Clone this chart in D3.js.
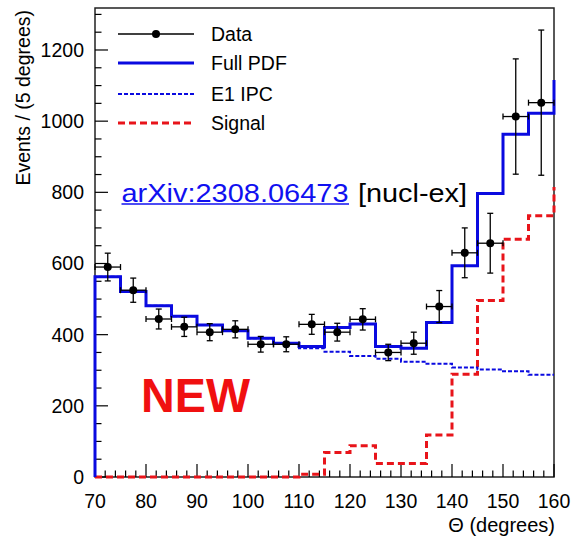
<!DOCTYPE html>
<html>
<head>
<meta charset="utf-8">
<script src="https://cdn.jsdelivr.net/npm/d3@7"></script>
<style>
  body { margin: 0; background: #fff; }
  svg { display: block; font-family: "Liberation Sans", Arial, sans-serif; }
</style>
</head>
<body>
<svg width="572" height="539"></svg>
<script>
// bin centres (5 degree bins from 70 to 160)
const binCenters = [72.5, 77.5, 82.5, 87.5, 92.5, 97.5, 102.5, 107.5, 112.5,
    117.5, 122.5, 127.5, 132.5, 137.5, 142.5, 147.5, 152.5, 157.5];
const dataValues = [590, 525, 444, 422, 407, 415, 373, 373, 429,
    407, 443, 350, 376, 479, 630, 657, 1013, 1052];
const dataErrors = [39, 34, 28, 27, 24, 24, 22, 21, 28,
    25, 30, 23, 31, 45, 70, 84, 162, 204];
const fullPdf = [563, 521, 481, 452, 427, 411, 390, 376, 367,
    420, 430, 367, 362, 434, 594, 797, 963, 1022];
const e1Ipc = [563, 521, 481, 452, 427, 411, 390, 376, 362,
    352, 340, 332, 324, 318, 308, 302, 297, 287];
const signal = [0, 0, 0, 0, 0, 0, 0, 0, 8,
    69, 88, 38, 38, 118, 289, 496, 668, 734];
// curve end values at the plot edges (70 and 160)
const fullEdges = [0, 1116];
const e1Edges = [0, 287];
const signalEdges = [0, 815];

const xTicks = [70, 80, 90, 100, 110, 120, 130, 140, 150, 160];
const yTicks = [0, 200, 400, 600, 800, 1000, 1200];

const legendItems = ["Data", "Full PDF", "E1 IPC", "Signal"];

const svg = d3.select("svg");
const padL = 95, padR = 554, padT = 8, padB = 477;
const binW = 5;

const x = d3.scaleLinear().domain([70, 160]).range([padL, padR]);
const y = d3.scaleLinear().domain([0, 1318]).range([padB, padT]);

const blue = "#0a0ae0", red = "#e8141a";

// stepped histogram path with edge values
function stepPoints(vals, edges) {
    const pts = [[70, edges[0]]];
    vals.forEach((v, i) => {
        pts.push([binCenters[i] - binW / 2, v]);
        pts.push([binCenters[i] + binW / 2, v]);
    });
    pts.push([160, edges[1]]);
    return pts;
}

const line = d3.line()
    .x(d => x(d[0]))
    .y(d => y(d[1]));

// frame
svg.append("rect")
    .attr("x", padL).attr("y", padT)
    .attr("width", padR - padL).attr("height", padB - padT)
    .attr("fill", "none").attr("stroke", "#222").attr("stroke-width", 1.5);

// minor + major ticks (pointing inward)
const g = svg.append("g");
const xMinor = d3.range(70, 160.01, 2);
g.selectAll("line.xminor").data(xMinor).enter().append("line")
    .attr("x1", d => x(d)).attr("x2", d => x(d))
    .attr("y1", padB).attr("y2", d => padB - (d % 10 === 0 ? 13 : 6.5))
    .attr("stroke", "#000").attr("stroke-width", 1.2);
const yMinor = d3.range(0, 1318, 50);
g.selectAll("line.yminor").data(yMinor).enter().append("line")
    .attr("y1", d => y(d)).attr("y2", d => y(d))
    .attr("x1", padL).attr("x2", d => padL + (d % 200 === 0 ? 13 : 6.5))
    .attr("stroke", "#000").attr("stroke-width", 1.2);

// tick labels
svg.append("g").selectAll("text").data(xTicks).enter().append("text")
    .attr("x", d => x(d)).attr("y", 508)
    .attr("text-anchor", "middle")
    .attr("font-size", 19.5)
    .text(d => d);
svg.append("g").selectAll("text").data(yTicks).enter().append("text")
    .attr("x", 84).attr("y", d => y(d) + 7)
    .attr("text-anchor", "end")
    .attr("font-size", 19.5)
    .text(d => d);

// axis titles
svg.append("text")
    .attr("transform", "translate(30,10) rotate(-90)")
    .attr("text-anchor", "end")
    .attr("font-size", 19.5)
    .text("Events / (5 degrees)");
svg.append("text")
    .attr("x", 555).attr("y", 532)
    .attr("text-anchor", "end")
    .attr("font-size", 20)
    .text("\u0398 (degrees)");

// curves
svg.append("path").attr("d", line(stepPoints(signal, signalEdges)))
    .attr("fill", "none").attr("stroke", red).attr("stroke-width", 3)
    .attr("stroke-dasharray", "7,4");
svg.append("path").attr("d", line(stepPoints(e1Ipc, e1Edges)))
    .attr("fill", "none").attr("stroke", blue).attr("stroke-width", 2)
    .attr("stroke-dasharray", "4,2");
svg.append("path").attr("d", line(stepPoints(fullPdf, fullEdges)))
    .attr("fill", "none").attr("stroke", blue).attr("stroke-width", 3);

// data points with error bars
const pts = svg.append("g").selectAll("g").data(binCenters).enter().append("g");
pts.append("line")
    .attr("x1", d => x(d - binW / 2)).attr("x2", d => x(d + binW / 2))
    .attr("y1", (d, i) => y(dataValues[i])).attr("y2", (d, i) => y(dataValues[i]))
    .attr("stroke", "#000").attr("stroke-width", 1.3);
pts.append("line")
    .attr("x1", d => x(d)).attr("x2", d => x(d))
    .attr("y1", (d, i) => y(dataValues[i] - dataErrors[i]))
    .attr("y2", (d, i) => y(dataValues[i] + dataErrors[i]))
    .attr("stroke", "#000").attr("stroke-width", 1.3);
// caps
[-1, 1].forEach(s => {
    pts.append("line")
        .attr("x1", d => x(d + s * binW / 2)).attr("x2", d => x(d + s * binW / 2))
        .attr("y1", (d, i) => y(dataValues[i]) - 3).attr("y2", (d, i) => y(dataValues[i]) + 3)
        .attr("stroke", "#000").attr("stroke-width", 1.3);
    pts.append("line")
        .attr("x1", d => x(d) - 3).attr("x2", d => x(d) + 3)
        .attr("y1", (d, i) => y(dataValues[i] + s * dataErrors[i]))
        .attr("y2", (d, i) => y(dataValues[i] + s * dataErrors[i]))
        .attr("stroke", "#000").attr("stroke-width", 1.3);
});
pts.append("circle")
    .attr("cx", d => x(d)).attr("cy", (d, i) => y(dataValues[i]))
    .attr("r", 4).attr("fill", "#000");

// legend
const legY = [34, 63, 94, 123];
const leg = svg.append("g");
leg.append("line").attr("x1", 118).attr("x2", 194).attr("y1", legY[0]).attr("y2", legY[0])
    .attr("stroke", "#000").attr("stroke-width", 1.3);
leg.append("circle").attr("cx", 156).attr("cy", legY[0]).attr("r", 4).attr("fill", "#000");
leg.append("line").attr("x1", 118).attr("x2", 194).attr("y1", legY[1]).attr("y2", legY[1])
    .attr("stroke", blue).attr("stroke-width", 3);
leg.append("line").attr("x1", 118).attr("x2", 194).attr("y1", legY[2]).attr("y2", legY[2])
    .attr("stroke", blue).attr("stroke-width", 2).attr("stroke-dasharray", "4,2");
leg.append("line").attr("x1", 118).attr("x2", 194).attr("y1", legY[3]).attr("y2", legY[3])
    .attr("stroke", red).attr("stroke-width", 3).attr("stroke-dasharray", "7,4");
leg.selectAll("text").data(legendItems).enter().append("text")
    .attr("x", 211).attr("y", (d, i) => legY[i] + 7)
    .attr("font-size", 19.5)
    .text(d => d);

// annotations
svg.append("text")
    .attr("x", 121.5).attr("y", 201.5)
    .attr("font-size", 26)
    .attr("textLength", 227).attr("lengthAdjust", "spacingAndGlyphs")
    .attr("fill", "#1010f0")
    .text("arXiv:2308.06473");
svg.append("line")
    .attr("x1", 121.5).attr("x2", 349).attr("y1", 204).attr("y2", 204)
    .attr("stroke", "#1010f0").attr("stroke-width", 1.6);
svg.append("text")
    .attr("x", 358).attr("y", 201.5)
    .attr("font-size", 26)
    .attr("textLength", 109).attr("lengthAdjust", "spacingAndGlyphs")
    .attr("fill", "#000")
    .text("[nucl-ex]");
svg.append("text")
    .attr("x", 141).attr("y", 411.5)
    .attr("font-size", 49).attr("font-weight", "bold")
    .attr("textLength", 109).attr("lengthAdjust", "spacingAndGlyphs")
    .attr("fill", "#f01010")
    .text("NEW");
</script>
</body>
</html>
